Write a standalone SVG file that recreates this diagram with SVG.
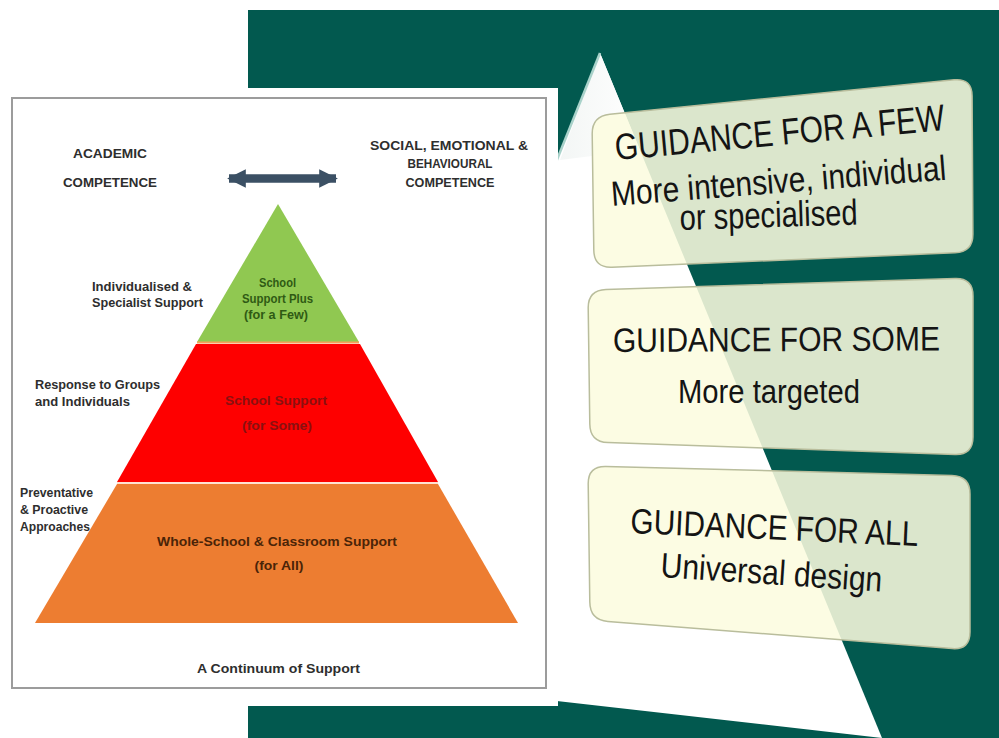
<svg xmlns="http://www.w3.org/2000/svg" width="999" height="738" viewBox="0 0 999 738">
  <style>
    .lbl { font-family: "Liberation Sans", Arial, sans-serif; font-weight: bold; font-size: 12px; fill: #2e2e2e; }
    .mid { text-anchor: middle; }
    .tier-g { fill: #2f5a14; }
    .tier-r { fill: #8a1010; }
    .tier-o { fill: #4a2408; }
    .card { fill: #fbfbdf; fill-opacity: 0.87; stroke: #b9bd9c; stroke-width: 1.5; }
    .ct { font-family: "Liberation Sans", Arial, sans-serif; fill: #141414; }
  </style>
  <defs>
    <marker id="head" viewBox="0 0 10 10" refX="9" refY="5" markerWidth="2.2" markerHeight="3" orient="auto-start-reverse" markerUnits="strokeWidth">
      <path d="M0,0 L10,5 L0,10 Z" fill="#3b5064"/>
    </marker>
    <linearGradient id="facet" gradientUnits="userSpaceOnUse" x1="560" y1="0" x2="640" y2="0">
      <stop offset="0" stop-color="#f3f6f5"/>
      <stop offset="1" stop-color="#ffffff"/>
    </linearGradient>
  </defs>

  <!-- page -->
  <rect x="0" y="0" width="999" height="738" fill="#ffffff"/>
  <rect x="248" y="10" width="751" height="728" fill="#02594f"/>

  <!-- light wedge -->
  <g id="wedge">
    <polygon points="600,53 882,738 548,700 548,182" fill="#ffffff"/>
    <polygon points="600,53 640,150 560,160" fill="url(#facet)"/>
    <line x1="600" y1="53" x2="548" y2="182" stroke="#a9d2ca" stroke-width="2.5"/>
  </g>

  <!-- left sheet -->
  <rect x="0" y="88" width="558" height="618" fill="#ffffff"/>
  <rect x="12" y="98" width="534" height="590" fill="#ffffff" stroke="#9c9c9c" stroke-width="2"/>

  <!-- heading labels -->
  <g id="academic">
    <text class="lbl mid" x="110" y="158" textLength="74" lengthAdjust="spacingAndGlyphs">ACADEMIC</text>
    <text class="lbl mid" x="110" y="187" textLength="94" lengthAdjust="spacingAndGlyphs">COMPETENCE</text>
  </g>
  <g id="social">
    <text class="lbl mid" x="449" y="150" textLength="158" lengthAdjust="spacingAndGlyphs">SOCIAL, EMOTIONAL &amp;</text>
    <text class="lbl mid" x="450" y="168" textLength="85" lengthAdjust="spacingAndGlyphs">BEHAVIOURAL</text>
    <text class="lbl mid" x="450" y="187" textLength="89" lengthAdjust="spacingAndGlyphs">COMPETENCE</text>
  </g>

  <g id="connectors">
    <line x1="229" y1="178.5" x2="336" y2="178.5" stroke="#3b5064" stroke-width="8.5" marker-start="url(#head)" marker-end="url(#head)"/>
  </g>

  <!-- pyramid tiers -->
  <g id="tier-few">
    <polygon points="278,204 197,342 359,342" fill="#90c851"/>
    <line x1="197" y1="342.5" x2="359" y2="342.5" stroke="#f4a15a" stroke-width="2"/>
    <text class="lbl mid tier-g" x="277.5" y="287" font-size="10.5" textLength="37" lengthAdjust="spacingAndGlyphs">School</text>
    <text class="lbl mid tier-g" x="277.5" y="303" font-size="10.5" textLength="71" lengthAdjust="spacingAndGlyphs">Support Plus</text>
    <text class="lbl mid tier-g" x="276" y="319" font-size="10.5" textLength="64" lengthAdjust="spacingAndGlyphs">(for a Few)</text>
  </g>
  <g id="tier-some">
    <polygon points="196,344 360,344 438,482 117,482" fill="#fe0000"/>
    <text class="lbl mid tier-r" x="276" y="405" textLength="102" lengthAdjust="spacingAndGlyphs">School Support</text>
    <text class="lbl mid tier-r" x="277" y="430" textLength="70" lengthAdjust="spacingAndGlyphs">(for Some)</text>
  </g>
  <g id="tier-all">
    <polygon points="117,484 438,484 518,623 35,623" fill="#ed7d31"/>
    <line x1="117" y1="483" x2="438" y2="483" stroke="#ffd9c2" stroke-width="1.5"/>
    <text class="lbl mid tier-o" x="277" y="546" textLength="240" lengthAdjust="spacingAndGlyphs">Whole-School &amp; Classroom Support</text>
    <text class="lbl mid tier-o" x="279" y="570" textLength="49" lengthAdjust="spacingAndGlyphs">(for All)</text>
  </g>

  <!-- side labels -->
  <g id="label-specialist">
    <text class="lbl" x="92" y="291" font-size="11.5" textLength="100" lengthAdjust="spacingAndGlyphs">Individualised &amp;</text>
    <text class="lbl" x="92" y="307" font-size="11.5" textLength="111" lengthAdjust="spacingAndGlyphs">Specialist Support</text>
  </g>
  <g id="label-groups">
    <text class="lbl" x="35" y="389" font-size="11.5" textLength="125" lengthAdjust="spacingAndGlyphs">Response to Groups</text>
    <text class="lbl" x="35" y="406" font-size="11.5" textLength="95" lengthAdjust="spacingAndGlyphs">and Individuals</text>
  </g>
  <g id="label-preventative">
    <text class="lbl" x="20" y="497" font-size="11" textLength="73" lengthAdjust="spacingAndGlyphs">Preventative</text>
    <text class="lbl" x="20" y="514" font-size="11" textLength="68" lengthAdjust="spacingAndGlyphs">&amp; Proactive</text>
    <text class="lbl" x="20" y="531" font-size="11" textLength="70" lengthAdjust="spacingAndGlyphs">Approaches</text>
  </g>
  <g id="caption">
    <text class="lbl mid" x="278.5" y="673" textLength="163" lengthAdjust="spacingAndGlyphs">A Continuum of Support</text>
  </g>

  <!-- guidance cards -->
  <g id="card-few">
    <path class="card" d="M609.9,114.2 L954.1,79.8 Q972,78 972.1,96 L972.9,234 Q973,252 955,252.8 L612,267.2 Q594,268 593.8,250 L592.2,134 Q592,116 609.9,114.2 Z"/>
    <text class="ct" font-size="37" transform="translate(616,160) rotate(-5.2)" textLength="331" lengthAdjust="spacingAndGlyphs">GUIDANCE FOR A FEW</text>
    <text class="ct" font-size="35" transform="translate(612,206) rotate(-4.5)" textLength="336" lengthAdjust="spacingAndGlyphs">More intensive, individual</text>
    <text class="ct" font-size="36" transform="translate(680,230) rotate(-1.8)" textLength="178" lengthAdjust="spacingAndGlyphs">or specialised</text>
  </g>
  <g id="card-some">
    <path class="card" d="M606,289.4 L955,278.6 Q973,278 973,296 L973,437 Q973,455 955,454.4 L608,442.6 Q590,442 589.8,424 L588.2,308 Q588,290 606,289.4 Z"/>
    <text class="ct" font-size="34" transform="translate(613,352) rotate(-0.3)" textLength="327" lengthAdjust="spacingAndGlyphs">GUIDANCE FOR SOME</text>
    <text class="ct" font-size="34" transform="translate(678,403)" textLength="182" lengthAdjust="spacingAndGlyphs">More targeted</text>
  </g>
  <g id="card-all">
    <path class="card" d="M606,466.5 L952,475.5 Q970,476 970,494 L970,632 Q970,650 952.1,648.6 L607.9,621.4 Q590,620 589.8,602 L588.2,484 Q588,466 606,466.5 Z"/>
    <text class="ct" font-size="35" transform="translate(630,533) rotate(2.6)" textLength="288" lengthAdjust="spacingAndGlyphs">GUIDANCE FOR ALL</text>
    <text class="ct" font-size="35" transform="translate(660,577) rotate(3.8)" textLength="222" lengthAdjust="spacingAndGlyphs">Universal design</text>
  </g>
</svg>
